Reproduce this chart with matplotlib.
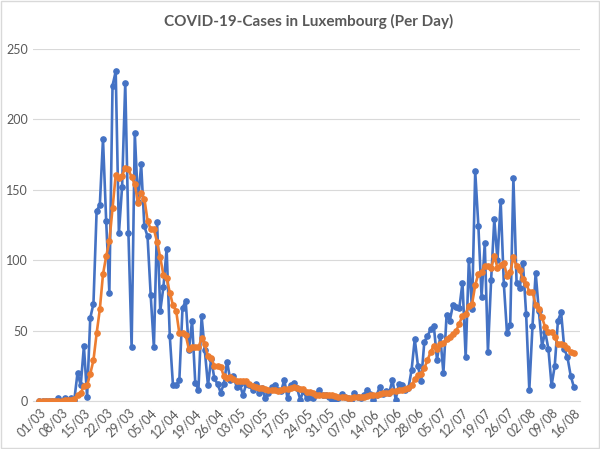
import matplotlib
matplotlib.use('Agg')
import matplotlib.pyplot as plt
from matplotlib.patches import Rectangle

# daily new cases, 01/03 .. 16/08
daily = [
    0, 0, 0, 0, 0, 0, 2, 0, 2, 1,
    2, 1, 20, 11, 39, 3, 59, 69, 135, 139,
    186, 128, 77, 224, 234, 119, 152, 226, 119, 38,
    190, 141, 168, 124, 117, 75, 38, 127, 64, 81,
    108, 46, 11, 11, 15, 66, 71, 36, 57, 13,
    8, 60, 36, 11, 30, 16, 12, 6, 12, 28,
    15, 18, 10, 12, 4, 12, 11, 8, 12, 6,
    9, 2, 6, 10, 11, 8, 7, 15, 2, 11,
    13, 9, 1, 7, 2, 3, 2, 5, 8, 4,
    4, 3, 1, 0, 2, 5, 3, 2, 0, 6,
    3, 2, 4, 8, 5, 1, 4, 10, 5, 7,
    6, 15, 1, 12, 11, 8, 9, 22, 44, 25,
    14, 42, 46, 51, 53, 29, 46, 20, 61, 57,
    68, 67, 66, 84, 31, 100, 65, 163, 124, 74,
    112, 35, 86, 129, 100, 142, 83, 48, 54, 158,
    84, 80, 98, 62, 8, 53, 91, 64, 39, 49,
    37, 11, 25, 57, 63, 37, 31, 18, 10,
]

# 7-day average (orange line)
avg7 = [
    0, 0, 0, 0, 0, 0, 0.3, 0.3, 0.6, 0.7,
    1.0, 1.1, 4.0, 5.3, 10.9, 11.0, 19.3, 28.9, 48.0, 65.0,
    90.0, 102.7, 113.3, 136.9, 160.4, 158.1, 160.0, 165.7, 164.4, 158.9,
    154.0, 140.7, 147.7, 143.7, 128.1, 121.9, 121.9, 112.9, 101.9, 89.4,
    87.1, 77.0, 67.9, 64.0, 48.0, 48.3, 46.9, 36.6, 38.1, 38.4,
    38.0, 44.4, 40.1, 31.6, 30.7, 24.9, 24.7, 24.4, 17.6, 16.4,
    17.0, 15.3, 14.4, 14.4, 14.1, 14.1, 11.7, 10.7, 9.9, 9.3,
    8.9, 8.6, 7.7, 7.6, 8.0, 7.4, 7.6, 8.4, 8.4, 9.1,
    9.6, 9.3, 8.3, 8.3, 6.4, 6.6, 5.3, 4.1, 4.0, 4.4,
    4.0, 4.1, 3.9, 3.6, 3.1, 2.7, 2.6, 2.3, 1.9, 2.6,
    3.0, 3.0, 2.9, 3.6, 4.0, 4.1, 3.9, 4.9, 5.3, 5.7,
    5.4, 6.9, 6.9, 8.0, 8.1, 8.6, 8.9, 11.1, 15.3, 18.7,
    19.0, 23.4, 28.9, 34.9, 39.3, 37.1, 40.1, 41.0, 43.7, 45.3,
    47.7, 49.7, 55.0, 60.4, 62.0, 67.6, 68.7, 82.3, 90.4, 91.6,
    95.6, 96.1, 94.1, 103.3, 94.3, 96.9, 98.1, 89.0, 91.7, 102.0,
    95.6, 92.7, 86.4, 83.4, 77.7, 77.6, 68.0, 65.1, 59.3, 52.3,
    48.7, 49.1, 45.1, 40.3, 40.1, 39.9, 37.3, 34.6, 34.4,
]

tick_labels = ['01/03', '08/03', '15/03', '22/03', '29/03', '05/04', '12/04',
               '19/04', '26/04', '03/05', '10/05', '17/05', '24/05', '31/05',
               '07/06', '14/06', '21/06', '28/06', '05/07', '12/07', '19/07',
               '26/07', '02/08', '09/08', '16/08']

plt.rcParams['font.family'] = ['Lato', 'DejaVu Sans']
grey = '#595959'

fig = plt.figure(figsize=(6, 4.49), dpi=100)
ax = fig.add_axes([0.055, 0.107, 0.912, 0.784])

x = list(range(len(daily)))
ax.plot(x, daily, color='#4472C4', lw=1.9, marker='o', ms=3.8, zorder=3)
ax.plot(x, avg7, color='#ED7D31', lw=1.9, marker='o', ms=3.8, zorder=4)

ax.set_ylim(0, 250)
ax.set_yticks(range(0, 251, 50))
ax.set_xlim(-2, 170)
ax.set_xticks(x[::7])
ax.set_xticklabels(tick_labels, rotation=45, ha='right', rotation_mode='anchor')
ax.tick_params(axis='both', length=0, colors=grey, labelsize=9)
ax.tick_params(axis='x', pad=4)
ax.grid(axis='y', color='#d9d9d9', lw=0.8)
ax.set_axisbelow(True)
for s in ['top', 'right', 'left']:
    ax.spines[s].set_visible(False)
ax.spines['bottom'].set_color('#d9d9d9')

fig.text(0.515, 0.952, 'COVID-19-Cases in Luxembourg (Per Day)', ha='center', va='center',
         fontsize=11, fontweight='bold', color=grey)

fig.patches.append(Rectangle((0.002, 0.002), 0.996, 0.995, transform=fig.transFigure,
                             fill=False, edgecolor='#d9d9d9', lw=1))

fig.savefig('out.png', dpi=100)
